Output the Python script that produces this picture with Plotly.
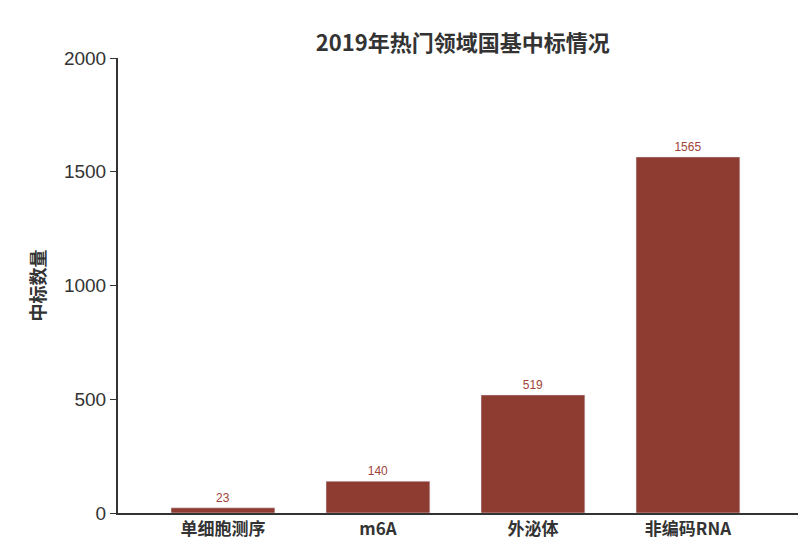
import plotly.graph_objects as go

fields = ["单细胞测序", "m6A", "外泌体", "非编码RNA"]
counts = [23, 140, 519, 1565]
y_ticks = [0, 500, 1000, 1500, 2000]

fig = go.Figure()
fig.add_trace(go.Bar(
    x=fields,
    y=counts,
    marker_color="#8e3b32",
    text=[str(c) for c in counts],
    textposition="outside",
    textfont=dict(size=12, color="#a0443a", family="Liberation Sans"),
    cliponaxis=False,
))

fig.update_layout(
    width=812, height=557,
    paper_bgcolor="white", plot_bgcolor="white",
    margin=dict(l=110, r=22, t=50, b=52),
    title=dict(text="<b>2019年热门领域国基中标情况</b>", x=0.56, y=0.95, xanchor="center",
               font=dict(size=22, color="#333", family="Noto Sans CJK SC")),
    bargap=0.33,
    showlegend=False,
    font=dict(family="Noto Sans CJK SC", color="#333"),
)
fig.update_xaxes(range=[-0.677, 3.71], showline=True, linecolor="#333", linewidth=2, ticks="",
                 tickfont=dict(size=17, color="#333"),
                 tickvals=fields, ticktext=[f"<b>{f}</b>" for f in fields])
fig.update_yaxes(range=[0, 2000], tickvals=y_ticks, showline=True, linecolor="#333",
                 linewidth=2, ticks="outside", ticklen=6, tickcolor="#333",
                 showgrid=False, zeroline=False,
                 tickfont=dict(size=19, color="#333", family="Liberation Sans"),
                 title=dict(text="<b>中标数量</b>", font=dict(size=18, color="#333"), standoff=14))

fig.write_html("out.html")
